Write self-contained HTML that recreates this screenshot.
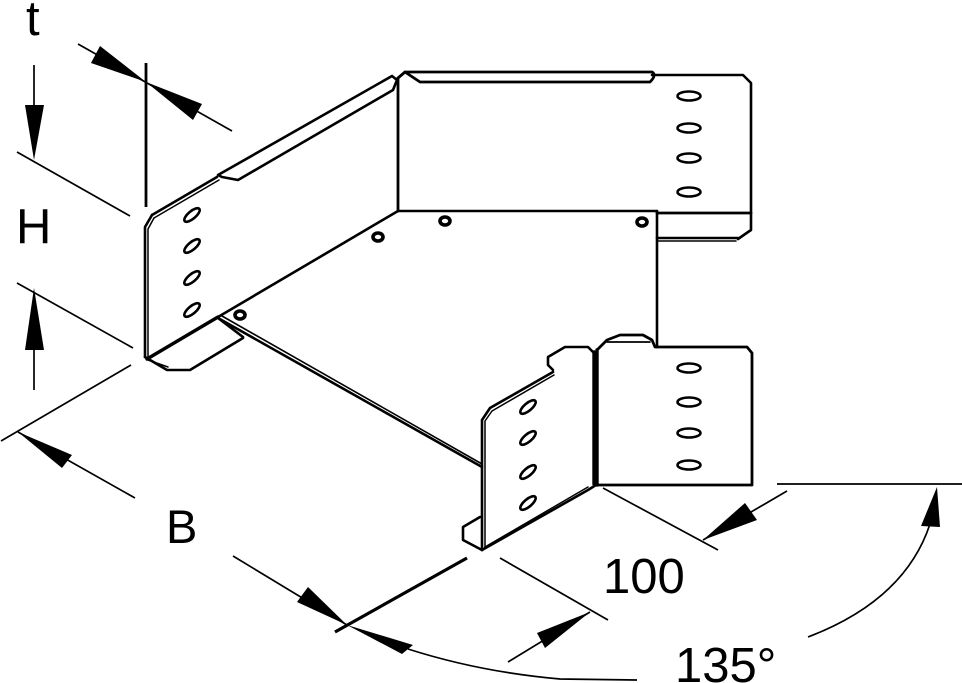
<!DOCTYPE html>
<html>
<head>
<meta charset="utf-8">
<style>
html,body{margin:0;padding:0;background:#fff;}
svg{display:block;}
text{font-family:"Liberation Sans",Arial,sans-serif;fill:#000;}
</style>
</head>
<body>
<svg width="962" height="683" viewBox="0 0 962 683" xmlns="http://www.w3.org/2000/svg">
<rect width="962" height="683" fill="#fff"/>

<!-- ===== Dimension lines ===== -->
<g stroke="#000" stroke-width="1.7" fill="none" stroke-linecap="butt">
  <line x1="34" y1="65" x2="34" y2="110"/>
  <line x1="34" y1="345" x2="34" y2="390"/>
  <line x1="17" y1="152" x2="130" y2="216"/>
  <line x1="17" y1="283" x2="133" y2="348"/>
  <line x1="1" y1="441" x2="131" y2="365"/>
  <line x1="78" y1="44" x2="232" y2="131"/>
  <line x1="18" y1="432" x2="135" y2="498"/>
  <line x1="233" y1="556" x2="347" y2="625"/>
  <path d="M408,649 Q480,672 560,679 L637,680"/>
  <path d="M808,637 Q905,600 930,524"/>
  <line x1="777" y1="484" x2="962" y2="484"/>
  <line x1="603" y1="488" x2="718" y2="550"/>
  <line x1="787" y1="491" x2="703" y2="540"/>
  <line x1="500" y1="558" x2="608" y2="620"/>
  <line x1="508" y1="662" x2="590" y2="612"/>
</g>
<line x1="146" y1="63" x2="146" y2="207" stroke="#000" stroke-width="2.8"/>
<line x1="335" y1="632" x2="467" y2="558" stroke="#000" stroke-width="3.2"/>

<g fill="#000" stroke="none">
  <polygon points="34,160 25,105 44,105"/>
  <polygon points="34,288 25,350 44,350"/>
  <polygon points="146,82 100,46 91,63"/>
  <polygon points="146,82 202,104 193,120"/>
  <polygon points="18,432 72,455 62,468"/>
  <polygon points="347,625 308,587 297,602"/>
  <polygon points="347,625 413,645 402,654"/>
  <polygon points="937,487 921,526 940,527"/>
  <polygon points="703,540 745,503 757,520"/>
  <polygon points="590,612 537,633 545,648"/>
</g>

<!-- ===== Part drawing ===== -->
<g stroke="#000" stroke-width="2.6" fill="none" stroke-linejoin="round" stroke-linecap="round">
  <path d="M152,215 L145,227 L145,357"/>
  <path d="M154,218 L148,229 L148,357" stroke-width="1.5"/>
  <path d="M152,215 L217,177"/>
  <path d="M154,218 L219,180" stroke-width="1.5"/>
  <path d="M218,175 L392,76 L397,80 L393,90 L238,180 L222,177 Z"/>
  <path d="M145,357 L167,370 L190,370 L243,338"/>
  <path d="M148,360 L168,367" stroke-width="1.5"/>
  <path d="M218,318 L243,337"/>
  <line x1="398" y1="211" x2="218" y2="317"/>
  <line x1="218" y1="317" x2="147" y2="359" stroke-width="3.4"/>
  <line x1="218" y1="318" x2="482" y2="467"/>
  <line x1="222" y1="316" x2="482" y2="464" stroke-width="1.6"/>

  <line x1="398" y1="78" x2="398" y2="211" stroke-width="2.8"/>
  <path d="M398,78 L405,72 L652,72 Q657,75 650,82 L420,82 L405,72" stroke-width="2.8"/>
  <path d="M652,75 L743,75 L751,83 L751,230 L738,239"/>
  <line x1="398" y1="211" x2="657" y2="211"/>
  <line x1="657" y1="211" x2="657" y2="347"/>
  <line x1="657" y1="213" x2="751" y2="213" stroke-width="2.8"/>
  <line x1="657" y1="238" x2="738" y2="238"/>
  <line x1="657" y1="241" x2="736" y2="241" stroke-width="1.5"/>

  <path d="M482,550 L482,420 L490,408 L553,372"/>
  <path d="M485,548 L485,421 L492,411 L554,375" stroke-width="1.5"/>
  <path d="M553,370 L548,365 L548,357 L565,347 L588,347 L593,352"/>
  <line x1="594" y1="352" x2="594" y2="484" stroke-width="3.4"/>
  <path d="M482,550 L588,490 L596,485"/>
  <path d="M485,547 L588,487" stroke-width="1.5"/>
  <path d="M480,517 L463,527 L463,540 L482,550"/>

  <path d="M597,350 L607,340 L620,335 L643,335 L652,340 L655,347 L747,347 L752,353 L752,485 L597,485 Z" stroke-width="2.8"/>
  <line x1="597" y1="350" x2="597" y2="485" stroke-width="3.4"/>
  <line x1="607" y1="342" x2="650" y2="342" stroke-width="1.7"/>
</g>

<!-- slots -->
<g stroke="#000" stroke-width="2.6" fill="#fff">
  <ellipse cx="689" cy="96" rx="11.5" ry="4.5"/>
  <ellipse cx="689" cy="128" rx="11.5" ry="4.5"/>
  <ellipse cx="689" cy="158" rx="11.5" ry="4.5"/>
  <ellipse cx="689" cy="192" rx="11.5" ry="4.5"/>
  <ellipse cx="689" cy="368" rx="11.5" ry="4.5"/>
  <ellipse cx="689" cy="402" rx="11.5" ry="4.5"/>
  <ellipse cx="689" cy="433" rx="11.5" ry="4.5"/>
  <ellipse cx="689" cy="465" rx="11.5" ry="4.5"/>
  <ellipse cx="192" cy="215" rx="9.5" ry="3.8" transform="rotate(-40 192 215)"/>
  <ellipse cx="192" cy="246" rx="9.5" ry="3.8" transform="rotate(-40 192 246)"/>
  <ellipse cx="192" cy="278" rx="9.5" ry="3.8" transform="rotate(-40 192 278)"/>
  <ellipse cx="192" cy="310" rx="9.5" ry="3.8" transform="rotate(-40 192 310)"/>
  <ellipse cx="528" cy="407" rx="9.5" ry="3.8" transform="rotate(-40 528 407)"/>
  <ellipse cx="528" cy="438" rx="9.5" ry="3.8" transform="rotate(-40 528 438)"/>
  <ellipse cx="528" cy="472" rx="9.5" ry="3.8" transform="rotate(-40 528 472)"/>
  <ellipse cx="528" cy="503" rx="9.5" ry="3.8" transform="rotate(-40 528 503)"/>
</g>
<!-- rivets -->
<g stroke="#000" stroke-width="3.6" fill="#fff">
  <ellipse cx="378" cy="237" rx="5" ry="4"/>
  <ellipse cx="445" cy="221" rx="5" ry="4"/>
  <ellipse cx="642" cy="222" rx="5" ry="4"/>
  <ellipse cx="240" cy="315" rx="5" ry="4"/>
</g>

<!-- labels -->
<text x="26" y="35" font-size="49">t</text>
<text x="16" y="243" font-size="49">H</text>
<text x="166" y="543" font-size="47">B</text>
<text x="603" y="593" font-size="49">100</text>
<text x="675" y="682" font-size="49">135°</text>
</svg>
</body>
</html>
